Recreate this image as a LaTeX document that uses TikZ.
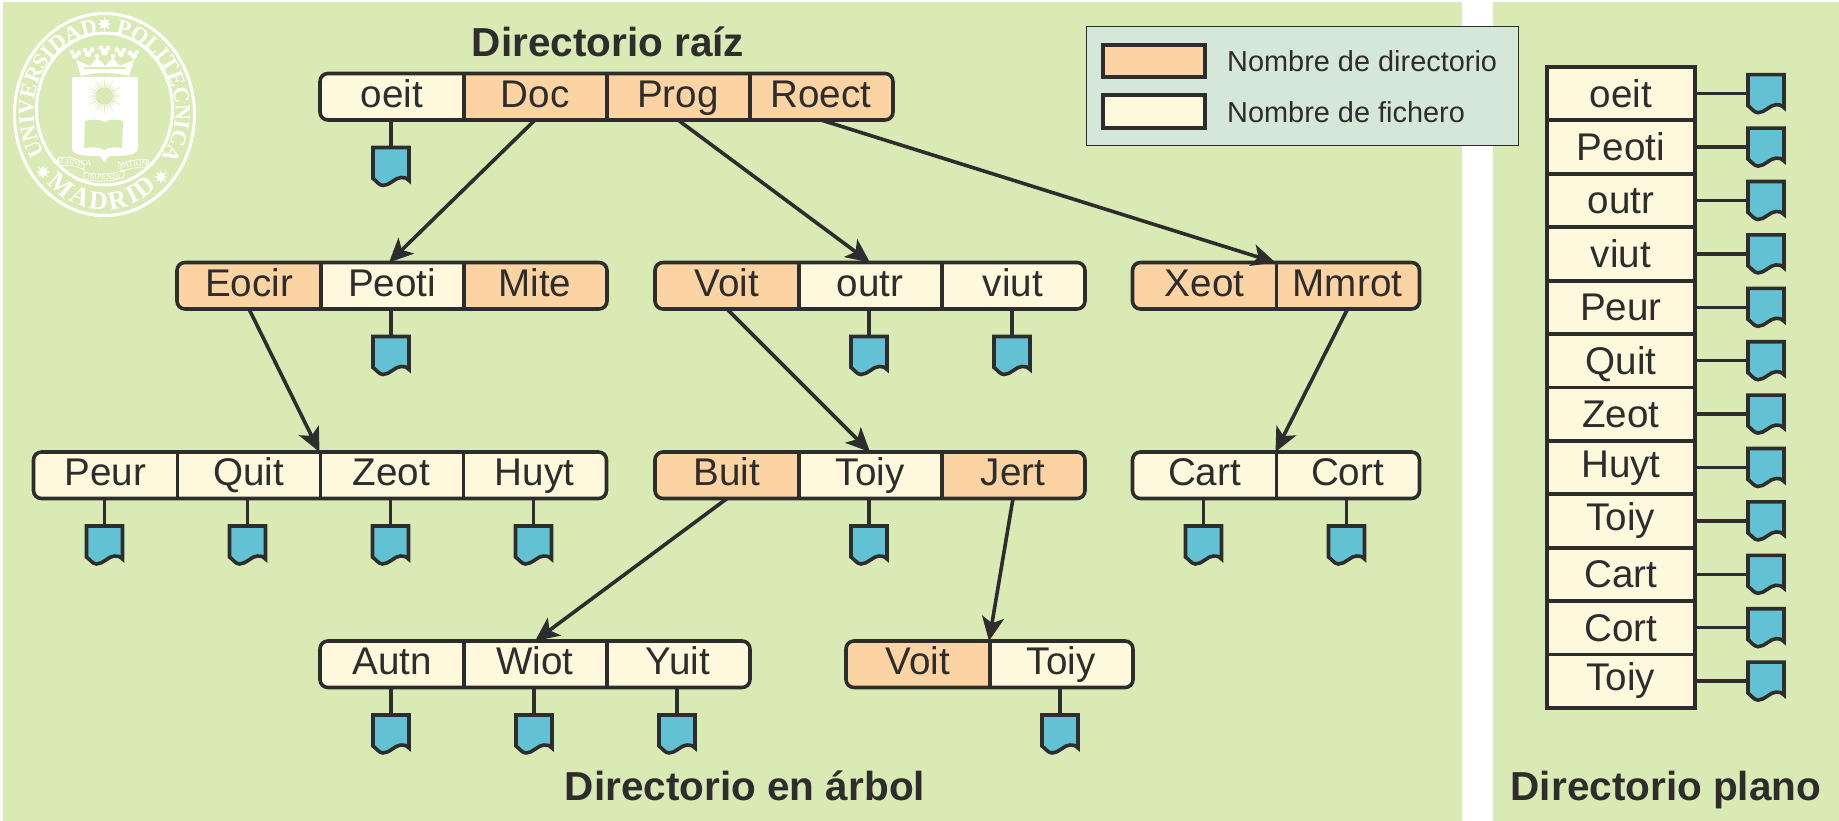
\documentclass[tikz,border=0pt]{standalone}
\usepackage{fontspec}
\setmainfont{Liberation Sans}
\newfontfamily\logoserif{Liberation Serif}
\usetikzlibrary{arrows.meta,shapes.geometric,decorations.text,calc}
\definecolor{panelgreen}{HTML}{DAEAB4}
\definecolor{dirorange}{HTML}{FCD3A2}
\definecolor{filecream}{HTML}{FEF9DC}
\definecolor{iconblue}{HTML}{62C1D3}
\definecolor{legendbg}{HTML}{D5E7D8}
\definecolor{ink}{HTML}{2D2D2D}
\tikzset{
  cellbase/.style={inner sep=0pt,outer sep=0pt,minimum width=144pt,minimum height=46.5pt,
    text=ink,font=\fontsize{38.6}{40}\selectfont,text height=27pt,text depth=6pt},
  dirc/.style={cellbase,fill=dirorange},
  filec/.style={cellbase,fill=filecream},
  rowborder/.style={draw=ink,line width=3.6pt,rounded corners=8pt},
  divider/.style={draw=ink,line width=3.6pt},
  treearrow/.style={draw=ink,line width=3.6pt,-{Stealth[length=24pt,width=22pt,inset=6pt]}},
  stem/.style={draw=ink,line width=3.4pt},
  iconbox/.style={inner sep=0pt,outer sep=0pt,minimum width=36pt,minimum height=38pt},
  iconshape/.style={draw=ink,fill=iconblue,line width=3.6pt,miter limit=10},
  flatcell/.style={draw=ink,line width=3.8pt,fill=filecream,inner sep=0pt,outer sep=0pt,
    minimum width=148.3pt,minimum height=53.4pt,text=ink,font=\fontsize{38.6}{40}\selectfont,
    text height=27pt},
  heading/.style={anchor=base,text=ink,font=\fontsize{40.5}{44}\selectfont\bfseries},
  swatch/.style={draw=ink,line width=4pt,inner sep=0pt,outer sep=0pt,minimum width=102pt,minimum height=32.5pt},
  legendtext/.style={anchor=base west,inner sep=0pt,text=ink,font=\fontsize{28.9}{34}\selectfont},
  logostar/.style={star,star points=8,star point ratio=2.1,fill=white,inner sep=0pt,minimum size=14pt},
  ribbontext/.style={inner sep=0pt,text=white,font=\fontsize{8}{8}\logoserif},
  ribbonline/.style={draw=white,line width=0.7pt,line join=round}
}
\newcommand{\fileicon}[3]{%
  \node[iconbox] (#1) at (#2,#3) {};
  \draw[iconshape,shift={(#1.north)}] (-18,0) -- (18,0) -- (18,33)
    .. controls (15,30) and (13,30) .. (10,30)
    .. controls (4,30) and (-1,38) .. (-8,38)
    .. controls (-12,38) and (-15,33) .. (-18,31) -- cycle;}
\begin{document}
\begin{tikzpicture}[x=1pt,y=-1pt]
\useasboundingbox (0,0) rectangle (1839,821);
\fill[white] (0,0) rectangle (1839,821);
\fill[panelgreen] (3,2) rectangle (1462,821);
\fill[panelgreen] (1493,2) rectangle (1839,821);

% ---------- logo
\draw[white,line width=3pt] (104.5,114.5) ellipse [x radius=90,y radius=101];
\draw[white,line width=3pt] (104.5,109) ellipse [x radius=68,y radius=76];
\node[logostar] (staptop) at (104.5,24) {};
\node[logostar] (stapleft) at (43,172) {};
\node[logostar] (stapright) at (161,177) {};
\begin{scope}[x=1pt,y=1pt,shift={(104.5pt,-111pt)}]
\path[decorate,decoration={text along path,text align={fit to path},
  text={|\fontsize{22}{22}\logoserif\bfseries\color{white}|UNIVERSIDAD}}]
  ({71*cos(213)},{78*sin(213)}) arc[start angle=213,end angle=97,x radius=71,y radius=78];
\path[decorate,decoration={text along path,text align={fit to path},
  text={|\fontsize{22}{22}\logoserif\bfseries\color{white}|POLITECNICA}}]
  ({71*cos(81)},{78*sin(81)}) arc[start angle=81,end angle=-32,x radius=71,y radius=78];
\path[decorate,decoration={text along path,text align={fit to path},
  text={|\fontsize{26}{26}\logoserif\bfseries\color{white}|MADRID}}]
  ({82*cos(226)},{98*sin(226)-1}) arc[start angle=226,end angle=310,x radius=82,y radius=98];
\end{scope}
% crown
\fill[white] (81,76) -- (76,60) -- (90,66) -- (97,58) -- (105,66) -- (113,58) -- (120,66) -- (134,60) -- (129,76)
  .. controls (115,72) and (95,72) .. (81,76) -- cycle;
\foreach \cx/\cy/\cr in {75/56/3,79/53/2.5,72/52/2,88/54/3.2,92/50/2.6,85/50/2.2,104.5/52/3.6,101/48/2.4,108/48/2.4,
  121/54/3.2,117/50/2.6,124/50/2.2,134/56/3,130/53/2.5,137/52/2,97/56/2.2,113/56/2.2}
  {\fill[white] (\cx,\cy) circle [radius=\cr];}
\fill[panelgreen] (84,67) rectangle (126,69.5);
% shield
\fill[white,rounded corners=2pt] (72,77) -- (138,77) -- (138,146)
  .. controls (138,155) and (125,156) .. (112,156)
  .. controls (108,156) and (106,160) .. (104.5,163)
  .. controls (103,160) and (101,156) .. (97,156)
  .. controls (85,156) and (72,155) .. (72,146) -- cycle;
\foreach \a/\r in {0/19,15/15,30/19,45/15,60/19,75/15,90/19,105/15,120/19,135/15,150/19,165/15,180/19,195/15,210/19,225/15,240/19,255/15,270/19,285/15,300/19,315/15,330/19,345/15}{
  \fill[panelgreen] ({104.5+7*cos(\a-6)},{96-7*sin(\a-6)}) -- ({104.5+\r*cos(\a)},{96-\r*sin(\a)})
     -- ({104.5+7*cos(\a+6)},{96-7*sin(\a+6)}) -- cycle;}
\fill[panelgreen] (104.5,96) circle [radius=8.5];
\fill[panelgreen] (85,121) .. controls (92,119) and (100,119) .. (104.5,122)
  .. controls (109,119) and (117,119) .. (123,121) -- (122,148)
  .. controls (115,147) and (109,147) .. (104.5,150)
  .. controls (100,147) and (92,147) .. (84,148) -- cycle;
% ribbons
\draw[ribbonline] (58,158) .. controls (70,155) and (80,160) .. (84,164) -- (84,170) .. controls (78,166) and (68,164) .. (59,166) -- cycle;
\draw[ribbonline] (84,172) .. controls (95,175) and (112,175) .. (124,170) -- (124,177) .. controls (112,182) and (95,182) .. (84,179) -- cycle;
\draw[ribbonline] (121,165) .. controls (128,160) and (138,159) .. (147,160) -- (147,168) .. controls (138,167) and (128,168) .. (121,172) -- cycle;
\node[ribbontext,rotate=-4] (ribtech) at (71.5,162) {TECHNICA};
\node[ribbontext] (ribimp) at (104,176.5) {IMPENDI};
\node[ribbontext,rotate=3] (ribnat) at (134,164) {NATIONI};

% ---------- legend
\draw[draw=ink,line width=1pt,fill=legendbg] (1086,27) rectangle (1518,146);
\node[swatch,fill=dirorange] (swdir) at (1154,61) {};
\node[swatch,fill=filecream] (swfile) at (1154,111.5) {};
\node[legendtext] (lgdir) at (1227,72) {Nombre de directorio};
\node[legendtext] (lgfile) at (1227,122.5) {Nombre de fichero};

% ---------- headings
\node[heading] (hroot) at (608,56.5) {Directorio raíz};
\node[heading] (htree) at (745,800) {Directorio en árbol};
\node[heading] (hflat) at (1666,800) {Directorio plano};

% ---------- row 1
\def\ra{96.75}\def\rb{285.75}\def\rc{475.25}\def\rd{664.25}
\begin{scope}
\clip[rounded corners=8pt] (320.5,73.5) rectangle (892.5,120);
\node[filec] (oeit) at (392,\ra) {oeit};
\node[dirc] (doc) at (535,\ra) {Doc};
\node[dirc] (prog) at (678,\ra) {Prog};
\node[dirc] (roect) at (821,\ra) {Roect};
\end{scope}
\draw[rowborder] (oeit.north west) rectangle (roect.south east);
\foreach \c in {oeit,doc,prog}{\draw[divider] (\c.north east) -- (\c.south east);}

% ---------- row 2
\begin{scope}
\clip[rounded corners=8pt] (177.5,262.5) rectangle (606.5,309);
\node[dirc] (eocir) at (249,\rb) {Eocir};
\node[filec] (peoti) at (392,\rb) {Peoti};
\node[dirc] (mite) at (535,\rb) {Mite};
\end{scope}
\draw[rowborder] (eocir.north west) rectangle (mite.south east);
\foreach \c in {eocir,peoti}{\draw[divider] (\c.north east) -- (\c.south east);}

\begin{scope}
\clip[rounded corners=8pt] (655.5,262.5) rectangle (1084.5,309);
\node[dirc] (voita) at (727,\rb) {Voit};
\node[filec] (outr) at (870,\rb) {outr};
\node[filec] (viut) at (1013,\rb) {viut};
\end{scope}
\draw[rowborder] (voita.north west) rectangle (viut.south east);
\foreach \c in {voita,outr}{\draw[divider] (\c.north east) -- (\c.south east);}

\begin{scope}
\clip[rounded corners=8pt] (1133,262.5) rectangle (1419,309);
\node[dirc] (xeot) at (1204.5,\rb) {Xeot};
\node[dirc] (mmrot) at (1347.5,\rb) {Mmrot};
\end{scope}
\draw[rowborder] (xeot.north west) rectangle (mmrot.south east);
\draw[divider] (xeot.north east) -- (xeot.south east);

% ---------- row 3
\begin{scope}
\clip[rounded corners=8pt] (34,452) rectangle (606,498.5);
\node[filec] (peur) at (105.5,\rc) {Peur};
\node[filec] (quit) at (248.5,\rc) {Quit};
\node[filec] (zeot) at (391.5,\rc) {Zeot};
\node[filec] (huyt) at (534.5,\rc) {Huyt};
\end{scope}
\draw[rowborder] (peur.north west) rectangle (huyt.south east);
\foreach \c in {peur,quit,zeot}{\draw[divider] (\c.north east) -- (\c.south east);}

\begin{scope}
\clip[rounded corners=8pt] (655.5,452) rectangle (1084.5,498.5);
\node[dirc] (buit) at (727,\rc) {Buit};
\node[filec] (toiya) at (870,\rc) {Toiy};
\node[dirc] (jert) at (1013,\rc) {Jert};
\end{scope}
\draw[rowborder] (buit.north west) rectangle (jert.south east);
\foreach \c in {buit,toiya}{\draw[divider] (\c.north east) -- (\c.south east);}

\begin{scope}
\clip[rounded corners=8pt] (1133,452) rectangle (1419,498.5);
\node[filec] (cart) at (1204.5,\rc) {Cart};
\node[filec] (cort) at (1347.5,\rc) {Cort};
\end{scope}
\draw[rowborder] (cart.north west) rectangle (cort.south east);
\draw[divider] (cart.north east) -- (cart.south east);

% ---------- row 4
\begin{scope}
\clip[rounded corners=8pt] (320.5,641) rectangle (749.5,687.5);
\node[filec] (autn) at (392,\rd) {Autn};
\node[filec] (wiot) at (535,\rd) {Wiot};
\node[filec] (yuit) at (678,\rd) {Yuit};
\end{scope}
\draw[rowborder] (autn.north west) rectangle (yuit.south east);
\foreach \c in {autn,wiot}{\draw[divider] (\c.north east) -- (\c.south east);}

\begin{scope}
\clip[rounded corners=8pt] (846.5,641) rectangle (1132.5,687.5);
\node[dirc] (voitb) at (918,\rd) {Voit};
\node[filec] (toiyb) at (1061,\rd) {Toiy};
\end{scope}
\draw[rowborder] (voitb.north west) rectangle (toiyb.south east);
\draw[divider] (voitb.north east) -- (voitb.south east);

% ---------- file icons of the tree
\foreach \c/\x/\y in {oeit/391/166.5,
  peoti/391/355.5,outr/869/355.5,viut/1012/355.5,
  peur/104.5/545,quit/247.5/545,zeot/390.5/545,huyt/533.5/545,toiya/869/545,cart/1203.5/545,cort/1346.5/545,
  autn/391/734,wiot/534/734,yuit/677/734,toiyb/1060/734}{
  \fileicon{ic\c}{\x}{\y}
  \draw[stem] (ic\c.north |- \c.south) -- (ic\c.north);
}

% ---------- tree connectors
\draw[treearrow] (doc.south) -- ($(peoti.north)+(-3,0)$);
\draw[treearrow] (prog.south) -- (outr.north);
\draw[treearrow] (roect.south) -- (mmrot.north west);
\draw[treearrow] (eocir.south) -- (zeot.north west);
\draw[treearrow] (voita.south) -- (toiya.north);
\draw[treearrow] (mmrot.south) -- (cort.north west);
\draw[treearrow] (buit.south) -- (wiot.north);
\draw[treearrow] (jert.south) -- (toiyb.north west);

% ---------- flat directory
\foreach \i/\t/\d in {1/oeit/0,2/Peoti/0,3/outr/0,4/viut/0,5/Peur/0,6/Quit/0,7/Zeot/0,8/Huyt/8,9/Toiy/8,10/Cart/0,11/Cort/0,12/Toiy/8}{
  \pgfmathsetmacro\yy{93.7+53.4*(\i-1)}
  \node[flatcell,text depth=\d pt] (flat\i) at (1620.9,\yy) {\t};
  \fileicon{flic\i}{1766}{\yy}
  \draw[stem] (flat\i.east) -- (flic\i.west);
}
\end{tikzpicture}
\end{document}
